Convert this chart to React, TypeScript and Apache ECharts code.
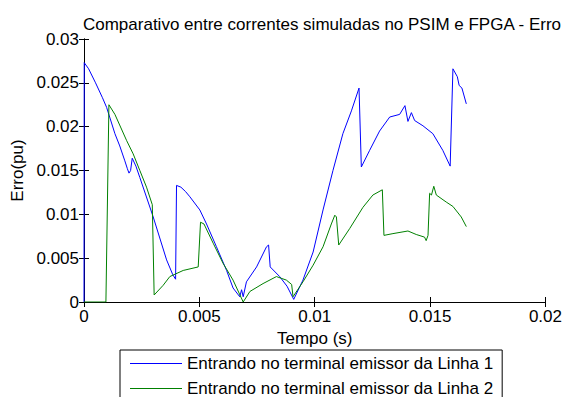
import React, { useEffect, useRef } from "react";
import * as echarts from "echarts";

// Time (s) and error (pu) samples for each series
const timeLinha1 = [
  0, 0.00001, 0.0002, 0.0005, 0.0008, 0.00098, 0.00134, 0.00155, 0.00177, 0.00188,
  0.00195, 0.00202, 0.00209, 0.00225, 0.00242, 0.0030, 0.00358, 0.00385, 0.00397, 0.00401,
  0.0042, 0.0044, 0.00459, 0.00502, 0.00531, 0.00574, 0.00618, 0.00646, 0.00675, 0.00683,
  0.0069, 0.00704, 0.00748, 0.00791, 0.0080, 0.00807, 0.00848, 0.0088, 0.00909, 0.00949,
  0.00993, 0.01036, 0.01079, 0.01122, 0.01159, 0.01192, 0.01202, 0.01238, 0.01281, 0.01325,
  0.01368, 0.01391, 0.01404, 0.01419, 0.01433, 0.01469, 0.01512, 0.01555, 0.01587, 0.01599,
  0.01618, 0.01626, 0.01638, 0.01657,
];
const erroLinha1 = [
  0, 0.0273, 0.0266, 0.025, 0.0233, 0.0222, 0.0192, 0.0178, 0.0161, 0.0152,
  0.0147, 0.015, 0.0164, 0.0155, 0.0142, 0.0097, 0.0048, 0.0031, 0.0026, 0.0133,
  0.0131, 0.0126, 0.012, 0.0105, 0.0089, 0.0063, 0.0036, 0.0016, 0.0006, 0.0014,
  0.0006, 0.0023, 0.004, 0.0063, 0.0065, 0.004, 0.0029, 0.0018, 0.0003, 0.0025,
  0.0057, 0.0105, 0.015, 0.0192, 0.0218, 0.0244, 0.0154, 0.0173, 0.0195, 0.0211,
  0.0214, 0.0224, 0.0206, 0.0216, 0.0207, 0.0201, 0.0192, 0.0173, 0.0155, 0.0266,
  0.0257, 0.0247, 0.0244, 0.0226,
];

const timeLinha2 = [
  0, 0.00095, 0.00108, 0.00134, 0.00185, 0.00213, 0.00242, 0.00271, 0.00296, 0.00304,
  0.00343, 0.00372, 0.0043, 0.00495, 0.00505, 0.0052, 0.0056, 0.00603, 0.00646, 0.0069,
  0.00719, 0.00776, 0.00834, 0.00877, 0.009, 0.00906, 0.00949, 0.00993, 0.01036, 0.01072,
  0.01087, 0.01094, 0.01104, 0.01152, 0.01209, 0.01252, 0.01293, 0.013, 0.01339, 0.01404,
  0.0144, 0.01476, 0.01483, 0.01491, 0.01498, 0.01506, 0.01516, 0.01527, 0.0157, 0.01599,
  0.01635, 0.01657,
];
const erroLinha2 = [
  0, 0, 0.0225, 0.0214, 0.0184, 0.0169, 0.015, 0.0131, 0.0111, 0.0008,
  0.0019, 0.0029, 0.0036, 0.004, 0.0091, 0.0089, 0.0067, 0.0044, 0.0025, 0.0,
  0.0012, 0.0021, 0.0029, 0.0025, 0.002, 0.0006, 0.0023, 0.0042, 0.0063, 0.0089,
  0.0099, 0.0097, 0.0065, 0.0084, 0.0108, 0.0122, 0.0128, 0.0076, 0.0078, 0.0081,
  0.0077, 0.0074, 0.007, 0.0076, 0.0124, 0.0122, 0.0132, 0.0122, 0.0114, 0.0109,
  0.0097, 0.0086,
];

const xTicks = { min: 0, max: 0.02, interval: 0.005 };
const yTicks = { min: 0, max: 0.03, interval: 0.005 };

const seriesNames = [
  "Entrando no terminal emissor da Linha 1",
  "Entrando no terminal emissor da Linha 2",
];

const FONT = "'Liberation Sans', Arial, sans-serif";
const FS = 17;

export default function App() {
  const ref = useRef<HTMLDivElement>(null);

  useEffect(() => {
    document.body.style.margin = "0";
    const chart = echarts.init(ref.current!, null, { renderer: "svg" });

    const pairs = (t: number[], v: number[]) => t.map((x, i) => [x, v[i]]);

    const sideAxis = {
      type: "value" as const,
      axisLine: { show: true, lineStyle: { color: "#000", width: 1 } },
      axisTick: { show: true, inside: true, length: 5, lineStyle: { color: "#000" } },
      axisLabel: { show: false },
      splitLine: { show: false },
    };

    chart.setOption({
      animation: false,
      backgroundColor: "#fff",
      textStyle: { fontFamily: FONT },
      title: {
        text: "Comparativo entre correntes simuladas no PSIM e FPGA - Erro",
        left: 317,
        textAlign: "center",
        top: 11,
        textStyle: { fontFamily: FONT, fontSize: FS, fontWeight: "normal", color: "#000" },
      },
      grid: { left: 84, right: 19, top: 39, bottom: 95, containLabel: false },
      xAxis: [
        {
          ...sideAxis,
          ...xTicks,
          position: "bottom",
          name: "Tempo (s)",
          nameLocation: "middle",
          nameGap: 27,
          nameTextStyle: { fontFamily: FONT, fontSize: FS, color: "#000" },
          axisLabel: { show: true, margin: 6, fontFamily: FONT, fontSize: FS, color: "#000" },
        },
        { ...sideAxis, ...xTicks, position: "top" },
      ],
      yAxis: [
        {
          ...sideAxis,
          ...yTicks,
          position: "left",
          name: "Erro(pu)",
          nameLocation: "middle",
          nameGap: 58,
          nameTextStyle: { fontFamily: FONT, fontSize: FS, color: "#000" },
          axisLabel: { show: true, margin: 5, fontFamily: FONT, fontSize: FS, color: "#000" },
        },
        { ...sideAxis, ...yTicks, position: "right" },
      ],
      legend: {
        orient: "vertical",
        left: 120,
        top: 350,
        height: 80,
        padding: [5, 9, 8, 10],
        itemGap: 8,
        itemWidth: 52,
        itemHeight: 1,
        icon: "rect",
        borderColor: "#000",
        borderWidth: 1,
        borderRadius: 0,
        backgroundColor: "#fff",
        textStyle: { fontFamily: FONT, fontSize: FS, color: "#000", lineHeight: 17 },
        data: seriesNames,
      },
      series: [
        {
          name: seriesNames[0],
          type: "line",
          data: pairs(timeLinha1, erroLinha1),
          symbol: "none",
          lineStyle: { color: "#0000ff", width: 1 },
          itemStyle: { color: "#0000ff" },
        },
        {
          name: seriesNames[1],
          type: "line",
          data: pairs(timeLinha2, erroLinha2),
          symbol: "none",
          lineStyle: { color: "#008000", width: 1 },
          itemStyle: { color: "#008000" },
        },
      ],
    });

    return () => chart.dispose();
  }, []);

  return (
    <div
      ref={ref}
      style={{ position: "fixed", left: 0, top: 0, width: 565, height: 397 }}
    />
  );
}
